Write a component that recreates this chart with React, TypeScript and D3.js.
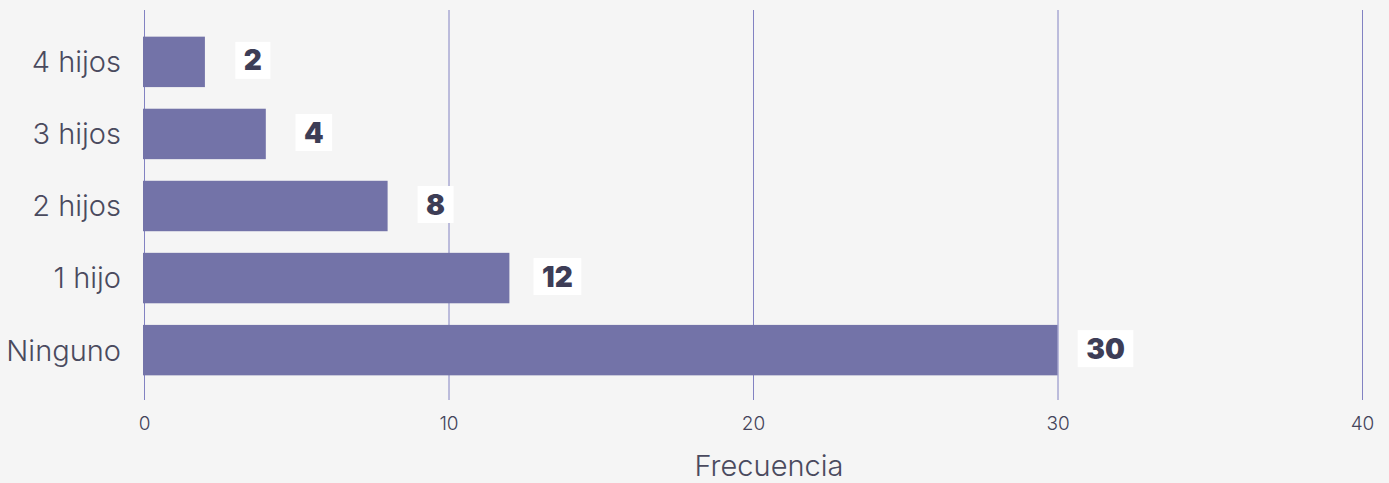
import React, { useEffect, useRef } from 'react';
import * as d3 from 'd3';

const categories = ['4 hijos', '3 hijos', '2 hijos', '1 hijo', 'Ninguno'];
const values = [2, 4, 8, 12, 30];
const xTicks = [0, 10, 20, 30, 40];
const axisTitle = 'Frecuencia';

const W = 1389;
const H = 483;

const App = () => {
	const chartRef = useRef<SVGSVGElement | null>(null);

	useEffect(() => {
		if (!chartRef.current) return;
		const svg = d3.select(chartRef.current);
		svg.selectAll('*').remove();

		const font = 'Inter, "Noto Sans", sans-serif';
		const x = d3.scaleLinear().domain([0, 40]).range([144, 1362]);
		const y = d3.scaleBand().domain(categories).range([10, 402]).paddingInner(0.3).paddingOuter(0.37);

		svg.append('rect').attr('width', W).attr('height', H).attr('fill', '#f5f5f5');

		// vertical grid
		svg.append('g')
			.selectAll('line')
			.data(xTicks)
			.join('line')
			.attr('x1', d => x(d) + 0.5)
			.attr('x2', d => x(d) + 0.5)
			.attr('y1', 10)
			.attr('y2', 400)
			.attr('stroke', '#8282c2')
			.attr('stroke-width', 1);

		// tick labels
		svg.append('g')
			.selectAll('text')
			.data(xTicks)
			.join('text')
			.attr('x', d => x(d) + 0.5)
			.attr('y', 430)
			.attr('text-anchor', 'middle')
			.style('font-family', font)
			.style('font-size', '19px')
			.style('font-weight', 300)
			.attr('fill', '#44445a')
			.text(d => d);

		// bars
		svg.append('g')
			.selectAll('rect')
			.data(values)
			.join('rect')
			.attr('x', x(0) - 1)
			.attr('y', (d, i) => y(categories[i])!)
			.attr('width', d => x(d) - x(0) + 1)
			.attr('height', y.bandwidth())
			.attr('fill', '#7373a8');

		// category labels
		svg.append('g')
			.selectAll('text')
			.data(categories)
			.join('text')
			.attr('x', 121)
			.attr('y', d => y(d)! + y.bandwidth() / 2)
			.attr('dy', '0.36em')
			.attr('text-anchor', 'end')
			.style('font-family', font)
			.style('font-size', '29px')
			.style('font-weight', 300)
			.attr('fill', '#4a4a5e')
			.text(d => d);

		// value labels
		const labels = svg.append('g')
			.selectAll('g')
			.data(values)
			.join('g')
			.attr('transform', (d, i) => `translate(${x(d) + 48},${y(categories[i])! + y.bandwidth() / 2 - 1.5})`);

		const boxes = labels.append('rect').attr('fill', '#ffffff');
		const texts = labels.append('text')
			.attr('text-anchor', 'middle')
			.attr('dy', '0.36em')
			.style('font-family', font)
			.style('font-size', '28px')
			.style('font-weight', 900)
			.attr('fill', '#3d3d56')
			.text(d => d);

		texts.each(function (d, i) {
			const w = (this as SVGTextElement).getComputedTextLength();
			d3.select(boxes.nodes()[i])
				.attr('x', -w / 2 - 8.5)
				.attr('y', -18.5)
				.attr('width', w + 17)
				.attr('height', 37);
		});

		// axis title
		svg.append('text')
			.attr('x', 769)
			.attr('y', 476)
			.attr('text-anchor', 'middle')
			.style('font-family', font)
			.style('font-size', '29px')
			.style('font-weight', 300)
			.attr('fill', '#4a4a5e')
			.text(axisTitle);
	}, []);

	return (
		<div style={{ position: 'fixed', left: 0, top: 0 }}>
			<svg ref={chartRef} width={W} height={H} style={{ display: 'block' }} />
		</div>
	);
};

export default App;
